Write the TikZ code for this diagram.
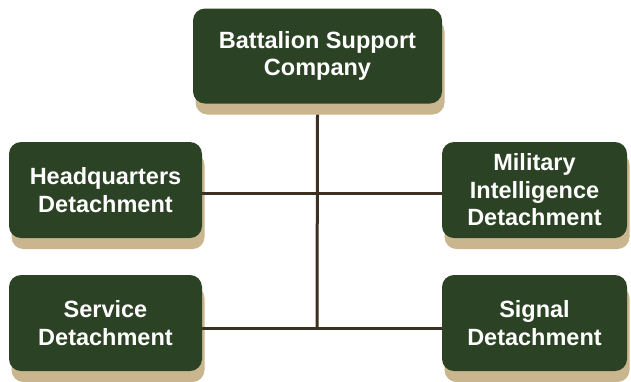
\documentclass[tikz,border=0pt]{standalone}
\usepackage{fontspec}
\setmainfont{Liberation Sans}
\usetikzlibrary{positioning,shadows}

\definecolor{unitgreen}{HTML}{2C4224}
\definecolor{unittan}{HTML}{C9B68E}
\definecolor{linkbrown}{HTML}{3B3022}

\begin{document}
\begin{tikzpicture}[x=1pt,y=-1pt]
\tikzstyle{unit} = [fill=unitgreen,text=white,rounded corners=12pt,align=center,
  font=\fontsize{23.5}{27.5}\selectfont\bfseries,inner sep=0pt,
  drop shadow={fill=unittan,opacity=1,shadow xshift=2.5pt,shadow yshift=-11pt}]
\tikzstyle{link} = [linkbrown,line width=3pt]

\useasboundingbox (0,0) rectangle (631,381);

\node[unit,minimum width=249pt,minimum height=95pt] (bsc) at (317.5,56) {Battalion Support\\Company};
\node[unit,minimum width=193pt,minimum height=96pt] (hq) at (105.5,190) {Headquarters\\Detachment};
\node[unit,minimum width=185pt,minimum height=96pt] (mi) at (534.5,190) {Military\\Intelligence\\Detachment};
\node[unit,minimum width=193pt,minimum height=96pt] (svc) at (105.5,323) {Service\\Detachment};
\node[unit,minimum width=185pt,minimum height=96pt] (sig) at (534.5,323) {Signal\\Detachment};

\coordinate (mid) at (317,193);
\coordinate (low) at (317,328);
\draw[link] (bsc.south) ++(0,11) -- (low);
\draw[link] (hq.east |- mid) -- (mi.west |- mid);
\draw[link] (svc.east |- low) -- (sig.west |- low);
\end{tikzpicture}
\end{document}
